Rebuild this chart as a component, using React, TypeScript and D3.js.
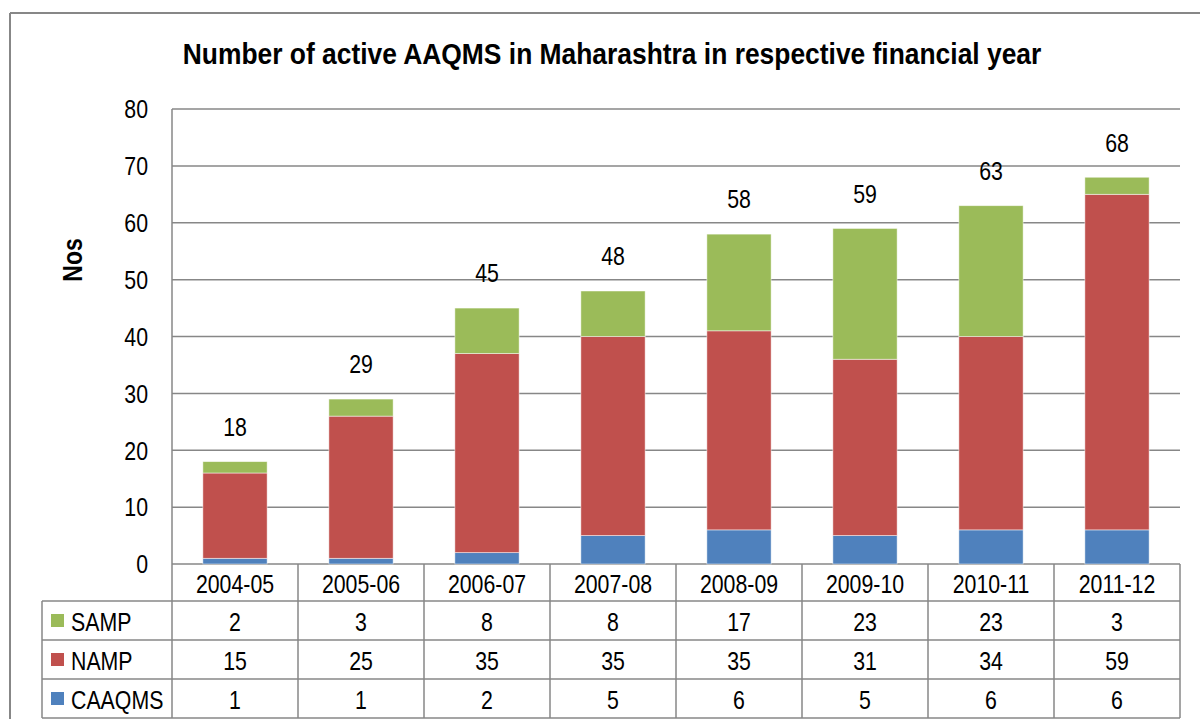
import React from "react";
import * as d3 from "d3";

const categories = ["2004-05", "2005-06", "2006-07", "2007-08", "2008-09", "2009-10", "2010-11", "2011-12"];
const caaqms = [1, 1, 2, 5, 6, 5, 6, 6];
const namp = [15, 25, 35, 35, 35, 31, 34, 59];
const samp = [2, 3, 8, 8, 17, 23, 23, 3];
const yTicks = [0, 10, 20, 30, 40, 50, 60, 70, 80];
const seriesNames = ["CAAQMS", "NAMP", "SAMP"];
const seriesColors = ["#4F81BD", "#C0504D", "#9BBB59"];
const tableOrder = ["SAMP", "NAMP", "CAAQMS"];

const FONT = "'Liberation Sans', Arial, sans-serif";
const GRID = "#878787";

function NText(props: { x: number; y: number; anchor?: string; size?: number; bold?: boolean; rotate?: number; narrow?: number; children: any }) {
  const { x, y, anchor = "middle", size = 26, bold = false, rotate = 0, narrow = 0.82, children } = props;
  return (
    <g transform={`translate(${x},${y}) rotate(${rotate}) scale(${narrow},1)`}>
      <text x={0} y={0} textAnchor={anchor as any} dominantBaseline="central" fontSize={size} fontWeight={bold ? "bold" : "normal"} fill="#000">
        {children}
      </text>
    </g>
  );
}

export default function App() {
  const W = 1200, H = 719;
  const left = 172, right = 1180, top = 109, bottom = 564;
  const rowH = 39;
  const headerBottom = 601;
  const tableLeft = 42;

  const x = d3.scaleBand<string>().domain(categories).range([left, right]).paddingInner(0.49).paddingOuter(0.245);
  const xc = d3.scaleBand<string>().domain(categories).range([left, right]);
  const y = d3.scaleLinear().domain([0, 80]).range([bottom, top]);

  const rows = categories.map((c, i) => ({ cat: c, CAAQMS: caaqms[i], NAMP: namp[i], SAMP: samp[i] }));
  const stack = d3.stack<any>().keys(seriesNames)(rows);
  const totals = categories.map((_, i) => caaqms[i] + namp[i] + samp[i]);
  const valuesByName: Record<string, number[]> = { SAMP: samp, NAMP: namp, CAAQMS: caaqms };
  const colorByName: Record<string, string> = { CAAQMS: seriesColors[0], NAMP: seriesColors[1], SAMP: seriesColors[2] };

  return (
    <svg width={W} height={H} style={{ position: "absolute", left: 0, top: 0, background: "#fff" }} fontFamily={FONT}>
      <rect x={0} y={0} width={W} height={H} fill="#fff" />
      {/* outer frame */}
      <line x1={10} y1={13} x2={W} y2={13} stroke={GRID} strokeWidth={2} />
      <line x1={10} y1={13} x2={10} y2={H} stroke={GRID} strokeWidth={2} />

      <NText x={612} y={53} size={30} bold narrow={0.88}>
        Number of active AAQMS in Maharashtra in respective financial year
      </NText>

      {/* gridlines */}
      {yTicks.map((t) => (
        <line key={t} x1={left} x2={right} y1={y(t)} y2={y(t)} stroke={GRID} strokeWidth={1.5} />
      ))}
      {yTicks.map((t) => (
        <NText key={"l" + t} x={148} y={y(t)} anchor="end">
          {t}
        </NText>
      ))}
      <NText x={72} y={260} rotate={-90} bold size={28}>
        Nos
      </NText>

      {/* bars */}
      {stack.map((s, si) =>
        s.map((d, i) => (
          <rect
            key={si + "-" + i}
            x={x(categories[i])}
            width={x.bandwidth()}
            y={y(d[1])}
            height={y(d[0]) - y(d[1])}
            fill={seriesColors[si]}
            stroke="#fff"
            strokeOpacity={0.6}
            strokeWidth={0.8}
          />
        ))
      )}
      {/* plot left axis line */}
      <line x1={left} x2={left} y1={top} y2={bottom} stroke={GRID} strokeWidth={1.5} />

      {/* totals */}
      {totals.map((t, i) => (
        <NText key={"t" + i} x={xc(categories[i])! + xc.bandwidth() / 2} y={y(t) - 35}>
          {t}
        </NText>
      ))}

      {/* data table */}
      {categories.map((c) => (
        <NText key={"c" + c} x={xc(c)! + xc.bandwidth() / 2} y={(bottom + headerBottom) / 2 + 1}>
          {c}
        </NText>
      ))}
      {tableOrder.map((name, r) => {
        const yMid = headerBottom + rowH * r + rowH / 2;
        return (
          <g key={name}>
            <rect x={51} y={yMid - 6.5} width={13} height={13} fill={colorByName[name]} />
            <NText x={71} y={yMid + 1} anchor="start">{name}</NText>
            {categories.map((c, i) => (
              <NText key={c} x={xc(c)! + xc.bandwidth() / 2} y={yMid + 1}>
                {valuesByName[name][i]}
              </NText>
            ))}
          </g>
        );
      })}
      {/* table grid */}
      {[0, 1, 2, 3].map((r) => (
        <line key={"h" + r} x1={tableLeft} x2={right} y1={headerBottom + rowH * r} y2={headerBottom + rowH * r} stroke={GRID} strokeWidth={1.5} />
      ))}
      <line x1={tableLeft} x2={tableLeft} y1={headerBottom} y2={headerBottom + rowH * 3} stroke={GRID} strokeWidth={1.5} />
      {d3.range(categories.length + 1).map((k) => {
        const xx = k < categories.length ? xc(categories[k])! : right;
        return <line key={"v" + k} x1={xx} x2={xx} y1={bottom} y2={headerBottom + rowH * 3} stroke={GRID} strokeWidth={1.5} />;
      })}
    </svg>
  );
}
